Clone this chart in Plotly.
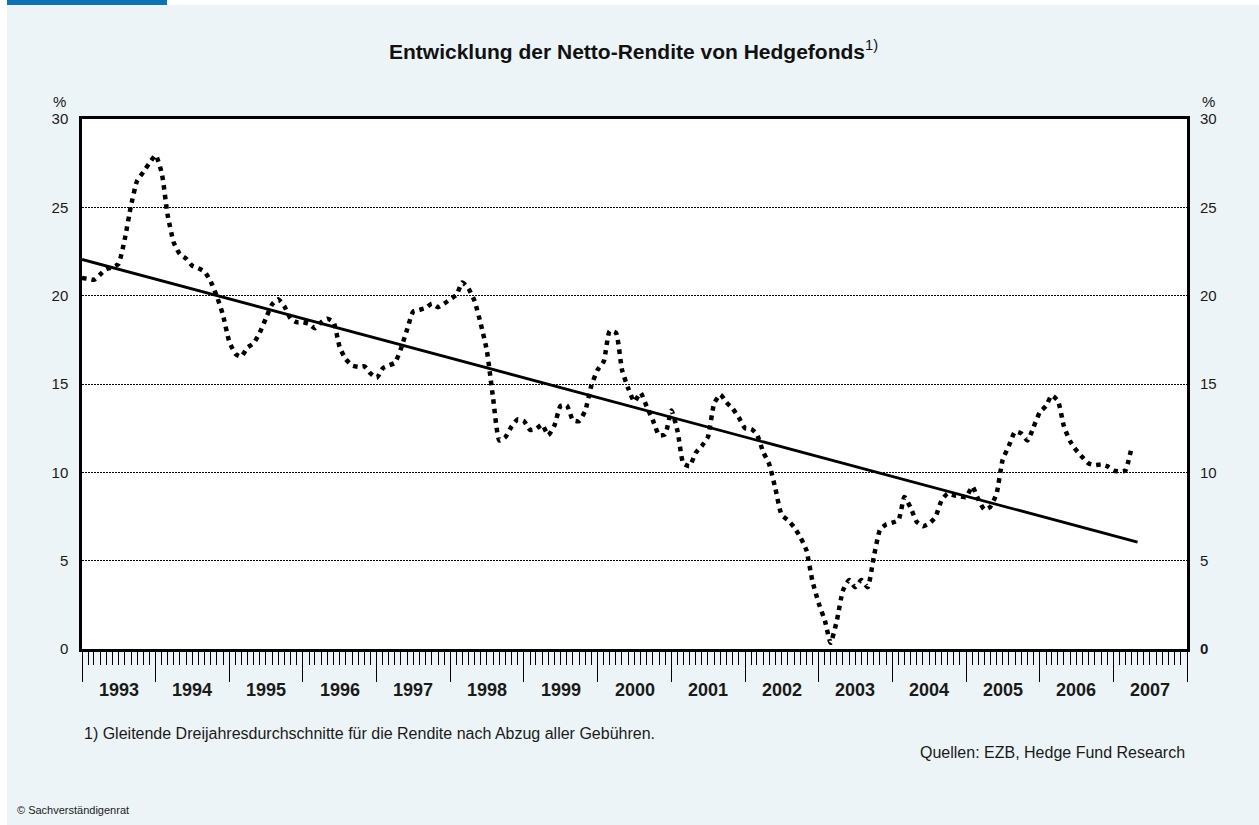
import plotly.graph_objects as go
import pandas as pd

# ---------------- data ----------------
start_month = "1993-01-01"
# monthly net return of hedge funds (3-year moving average), % — Jan 1993 .. Apr 2007
rendite = [
    21.0, 20.95, 20.9, 21.2, 21.5, 21.6, 21.8, 23.2, 25.1, 26.5, 27.0, 27.5,   # 1993
    27.95, 26.9, 24.6, 23.0, 22.35, 22.1, 21.7, 21.55, 21.35, 20.8, 19.95, 18.9,  # 1994
    17.4, 16.7, 16.55, 17.05, 17.3, 17.9, 18.7, 19.5, 19.8, 19.4, 18.7, 18.5,  # 1995
    18.5, 18.4, 18.15, 18.5, 18.7, 18.5, 17.1, 16.4, 16.05, 15.97, 16.0, 15.6,  # 1996
    15.35, 15.9, 16.05, 16.2, 17.0, 18.1, 19.1, 19.2, 19.3, 19.55, 19.35, 19.55,  # 1997
    19.8, 20.05, 20.75, 20.4, 19.7, 18.4, 16.9, 14.2, 11.8, 12.0, 12.6, 13.0,  # 1998
    12.9, 12.4, 12.45, 12.7, 12.1, 12.65, 13.75, 13.8, 12.95, 12.9, 13.5, 14.9,  # 1999
    15.8, 16.3, 18.0, 17.9, 15.8, 14.75, 14.0, 14.5, 13.7, 12.95, 12.1, 12.15,  # 2000
    13.5, 12.3, 10.5, 10.35, 11.1, 11.5, 12.0, 13.9, 14.4, 13.95, 13.6, 13.1,  # 2001
    12.5, 12.45, 12.15, 11.15, 10.45, 9.05, 7.6, 7.3, 6.9, 6.35, 5.6, 3.85,  # 2002
    2.6, 1.6, 0.35, 1.6, 3.3, 3.9, 3.5, 3.9, 3.5, 5.2, 6.75, 7.05,  # 2003
    7.15, 7.3, 8.6, 8.0, 7.2, 6.95, 7.1, 7.45, 8.4, 8.8, 8.7, 8.65,  # 2004
    8.6, 9.2, 8.5, 7.9, 8.05, 8.8, 10.7, 11.5, 12.3, 12.2, 11.8, 12.55,  # 2005
    13.4, 13.75, 14.35, 14.05, 12.6, 11.75, 11.25, 10.85, 10.5, 10.4, 10.45, 10.35,  # 2006
    10.1, 10.05, 10.1, 11.4,  # 2007
]
trend_dates = ["1993-01-01", "2007-05-01"]
trend_values = [22.05, 6.05]
years = list(range(1993, 2008))
y_ticks = [0, 5, 10, 15, 20, 25, 30]
y_ticktext_left = ["0", "5", "10", "15", "20", "25", "30"]
y_ticktext_right = ["<b>0</b>", "5", "10", "15", "20", "25", "30"]

title_text = "<b>Entwicklung der Netto-Rendite von Hedgefonds</b><sup>1)</sup>"
footnote = "1) Gleitende Dreijahresdurchschnitte für die Rendite nach Abzug aller Gebühren."
source = "Quellen: EZB, Hedge Fund Research"
copyright_text = "© Sachverständigenrat"

# ---------------- layout geometry ----------------
W, H = 1259, 825
L, R, T, B = 82, 1187, 119, 649
PW, PH = R - L, B - T


def px(x):
    return (x - L) / PW


def py(y):
    return (B - y) / PH


FONT = "Liberation Sans, Arial, Helvetica, sans-serif"
BG = "#ECF4F8"
TXT = "#1a1a1a"

dates = pd.date_range(start_month, periods=len(rendite), freq="MS")

fig = go.Figure()
fig.add_trace(go.Scatter(
    x=dates, y=rendite, mode="lines",
    line=dict(color="black", width=4.5, dash="4.5px,5px", shape="spline", smoothing=0.5),
    hoverinfo="skip", showlegend=False,
))
fig.add_trace(go.Scatter(
    x=trend_dates, y=trend_values, mode="lines", yaxis="y2",
    line=dict(color="black", width=2.8),
    hoverinfo="skip", showlegend=False,
))

year_starts = [f"{y}-01-01" for y in years] + [f"{years[-1] + 1}-01-01"]

fig.update_layout(
    width=W, height=H,
    margin=dict(l=L, r=W - R, t=T, b=H - B, pad=0),
    paper_bgcolor=BG, plot_bgcolor="white",
    font=dict(family=FONT, color=TXT, size=15),
    xaxis=dict(
        type="date",
        range=[year_starts[0], year_starts[-1]],
        tickmode="array", tickvals=year_starts, showticklabels=False,
        ticks="outside", ticklen=30, tickwidth=1.3, tickcolor="black",
        minor=dict(ticks="outside", dtick="M1", tick0=start_month,
                   ticklen=13, tickwidth=1.3, tickcolor="black", showgrid=False),
        showgrid=False, zeroline=False,
        showline=True, linecolor="black", linewidth=2.5, mirror=True,
        fixedrange=True,
    ),
    yaxis=dict(
        range=[0, 30], tickmode="array", tickvals=y_ticks, ticktext=y_ticktext_left,
        ticks="", showgrid=True, gridcolor="black", gridwidth=1, griddash="2px,1px",
        zeroline=False, showline=True, linecolor="black", linewidth=2.5, mirror=True,
        ticklabelstandoff=8, tickfont=dict(size=15),
    ),
    yaxis2=dict(
        range=[0, 30], overlaying="y", side="right",
        tickmode="array", tickvals=y_ticks, ticktext=y_ticktext_right,
        ticks="", showgrid=False, zeroline=False, showline=False,
        ticklabelstandoff=12, tickfont=dict(size=15),
    ),
)

annotations = []
for y in years:
    annotations.append(dict(
        x=f"{y}-07-02", xref="x", y=py(690), yref="paper",
        text=f"<b>{y}</b>", showarrow=False, xanchor="center", yanchor="middle",
        font=dict(size=18, family=FONT, color=TXT),
    ))
annotations += [
    dict(x=px(633), y=py(50), xref="paper", yref="paper", text=title_text,
         showarrow=False, xanchor="center", yanchor="middle",
         font=dict(size=21, family=FONT, color="#111")),
    dict(x=px(59), y=py(101), xref="paper", yref="paper", text="%",
         showarrow=False, xanchor="center", yanchor="middle", font=dict(size=15)),
    dict(x=px(1208), y=py(101), xref="paper", yref="paper", text="%",
         showarrow=False, xanchor="center", yanchor="middle", font=dict(size=15)),
    dict(x=px(82), y=py(733), xref="paper", yref="paper", text=footnote,
         showarrow=False, xanchor="left", yanchor="middle", font=dict(size=16)),
    dict(x=px(1187), y=py(752), xref="paper", yref="paper", text=source,
         showarrow=False, xanchor="right", yanchor="middle", font=dict(size=16)),
    dict(x=px(15), y=py(810), xref="paper", yref="paper", text=copyright_text,
         showarrow=False, xanchor="left", yanchor="middle", font=dict(size=11)),
]
fig.update_layout(annotations=annotations)

shapes = [
    # white top stripe
    dict(type="rect", xref="paper", yref="paper", x0=px(0), x1=px(W), y0=py(0), y1=py(5),
         fillcolor="white", line=dict(width=0), layer="above"),
    # white left stripe
    dict(type="rect", xref="paper", yref="paper", x0=px(0), x1=px(7), y0=py(0), y1=py(H),
         fillcolor="white", line=dict(width=0), layer="above"),
    # blue header bar
    dict(type="rect", xref="paper", yref="paper", x0=px(7), x1=px(167), y0=py(0), y1=py(5),
         fillcolor="#0E72B5", line=dict(width=0), layer="above"),
]
fig.update_layout(shapes=shapes)

fig.write_html(
    "out.html",
    config={"displayModeBar": False},
    post_script="document.body.style.margin='0';document.body.style.padding='0';",
)
